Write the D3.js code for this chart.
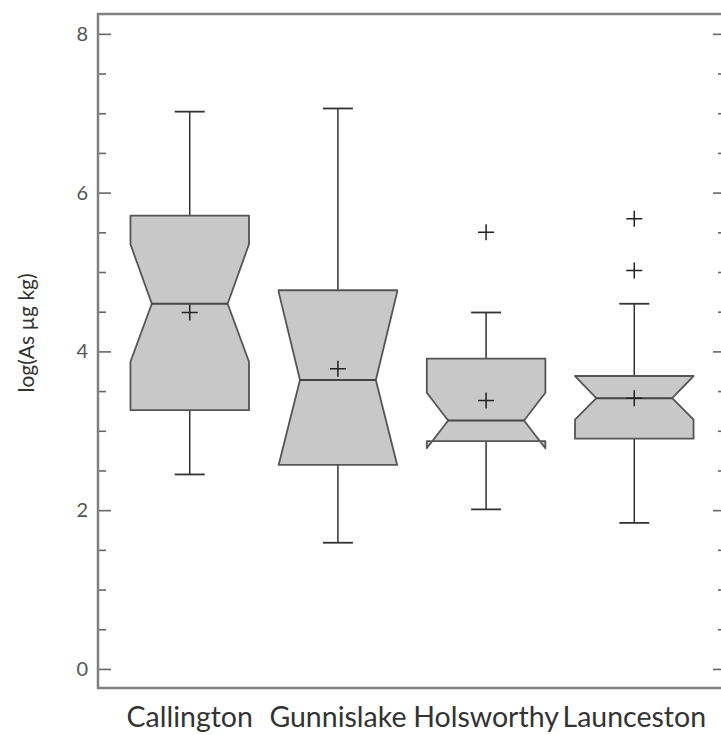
<!DOCTYPE html>
<html>
<head>
<meta charset="utf-8">
<script src="https://cdn.jsdelivr.net/npm/d3@7"></script>
<style>
  html, body { margin: 0; padding: 0; background: #fff; }
  svg { display: block; }
</style>
</head>
<body>
<svg id="chart" width="721" height="735"></svg>
<script>
// ---- data ----
const categories   = ["Callington", "Gunnislake", "Holsworthy", "Launceston"];
const whiskerHigh  = [7.02, 7.06, 4.49, 4.60];
const q3           = [5.71, 4.77, 3.91, 3.69];
const notchHigh    = [5.35, 4.75, 3.48, 3.69];
const median       = [4.60, 3.64, 3.13, 3.41];
const notchLow     = [3.87, 2.57, 2.78, 3.14];
const q1           = [3.26, 2.57, 2.87, 2.90];
const whiskerLow   = [2.45, 1.59, 2.01, 1.84];
const means        = [4.49, 3.78, 3.38, 3.41];
const outliers     = [[], [], [5.50], [5.67, 5.02]];
const majorTicks   = [0, 2, 4, 6, 8];
const minorTicks   = [0.5, 1, 1.5, 2.5, 3, 3.5, 4.5, 5, 5.5, 6.5, 7, 7.5];
const yTitle       = "log(As µg kg)";

// ---- layout ----
const L = 98, R = 726, T = 14, B = 688;
const svg = d3.select("#chart");

const x = d3.scaleBand().domain(categories).range([L, R])
  .paddingInner(0.2).paddingOuter(0.219);
const y = d3.scaleLinear().domain([-0.24, 8.25]).range([B, T]);

const font = "Lato, 'Open Sans', sans-serif";
const bw = x.bandwidth();
const nw = bw * 0.32;      // half-width of box at median (notch)
const capW = 15;           // half cap width
const plus = 8;            // half size of + markers

// ---- axes ----
const gLeft = svg.append("g").attr("transform", `translate(${L},0)`);
gLeft.call(d3.axisLeft(y).tickValues(majorTicks).tickSize(-13).tickPadding(10).tickFormat(d3.format("d")));
const gLeftMinor = svg.append("g").attr("transform", `translate(${L},0)`);
gLeftMinor.call(d3.axisLeft(y).tickValues(minorTicks).tickSize(-8).tickFormat(""));
const gRight = svg.append("g").attr("transform", `translate(${R},0)`);
gRight.call(d3.axisRight(y).tickValues(majorTicks).tickSize(-13).tickFormat(""));
const gRightMinor = svg.append("g").attr("transform", `translate(${R},0)`);
gRightMinor.call(d3.axisRight(y).tickValues(minorTicks).tickSize(-8).tickFormat(""));

svg.selectAll(".domain").remove();
svg.selectAll(".tick line").attr("stroke", "#666").attr("stroke-width", 1.6);
gLeft.selectAll(".tick text")
  .attr("font-family", font).attr("font-size", 20).attr("fill", "#555");

// frame
svg.append("rect").attr("x", L).attr("y", T).attr("width", R - L).attr("height", B - T)
  .attr("fill", "none").attr("stroke", "#808080").attr("stroke-width", 2.5);

// ---- boxes ----
const data = categories.map((c, i) => ({
  c, wh: whiskerHigh[i], q3: q3[i], nh: notchHigh[i], med: median[i],
  nl: notchLow[i], q1: q1[i], wl: whiskerLow[i], mean: means[i], out: outliers[i]
}));

const g = svg.append("g");
data.forEach(d => {
  const cx = x(d.c) + bw / 2;
  const left = cx - bw / 2, right = cx + bw / 2;

  // whiskers
  g.append("line").attr("x1", cx).attr("x2", cx).attr("y1", y(d.q3)).attr("y2", y(d.wh))
    .attr("stroke", "#333").attr("stroke-width", 1.5);
  g.append("line").attr("x1", cx - capW).attr("x2", cx + capW).attr("y1", y(d.wh)).attr("y2", y(d.wh))
    .attr("stroke", "#333").attr("stroke-width", 1.8);
  g.append("line").attr("x1", cx).attr("x2", cx).attr("y1", y(d.q1)).attr("y2", y(d.wl))
    .attr("stroke", "#333").attr("stroke-width", 1.5);
  g.append("line").attr("x1", cx - capW).attr("x2", cx + capW).attr("y1", y(d.wl)).attr("y2", y(d.wl))
    .attr("stroke", "#333").attr("stroke-width", 1.8);

  // notched box
  const pts = [
    [left, y(d.q3)], [right, y(d.q3)], [right, y(d.nh)], [cx + nw, y(d.med)],
    [right, y(d.nl)], [right, y(d.q1)], [left, y(d.q1)], [left, y(d.nl)],
    [cx - nw, y(d.med)], [left, y(d.nh)]
  ];
  g.append("path").attr("d", d3.line()(pts) + "Z")
    .attr("fill", "#c8c8c8").attr("stroke", "#555").attr("stroke-width", 1.8)
    .attr("stroke-linejoin", "round");

  // median
  g.append("line").attr("x1", cx - nw).attr("x2", cx + nw).attr("y1", y(d.med)).attr("y2", y(d.med))
    .attr("stroke", "#444").attr("stroke-width", 2);

  // mean and outliers as "+"
  [d.mean, ...d.out].forEach(v => {
    const py = y(v);
    g.append("path").attr("d", `M${cx - plus},${py}H${cx + plus}M${cx},${py - plus}V${py + plus}`)
      .attr("stroke", "#222").attr("stroke-width", 1.5).attr("fill", "none");
  });
});

// ---- category labels ----
svg.append("g").selectAll("text").data(categories).join("text")
  .attr("x", d => x(d) + bw / 2).attr("y", 727)
  .attr("text-anchor", "middle").attr("font-family", font).attr("font-size", 28.5)
  .attr("fill", "#333").text(d => d);

// ---- y title ----
svg.append("text")
  .attr("transform", `translate(34,333) rotate(-90)`)
  .attr("text-anchor", "middle").attr("font-family", font).attr("font-size", 21)
  .attr("fill", "#333").text(yTitle);
</script>
</body>
</html>
